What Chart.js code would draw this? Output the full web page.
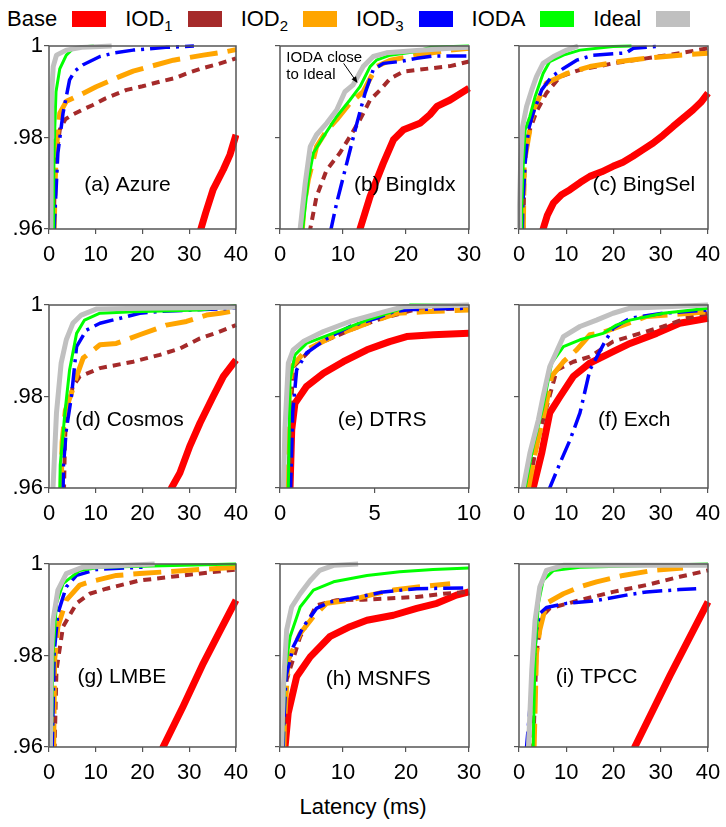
<!DOCTYPE html>
<html>
<head>
<meta charset="utf-8">
<title>Latency CDFs</title>
<script src="https://cdn.jsdelivr.net/npm/chart.js@4.4.0/dist/chart.umd.min.js"></script>
<style>
  body { margin: 0; background: #fff; font-family: "Liberation Sans", Arial, sans-serif; }
  #fig { position: relative; width: 726px; height: 827px; overflow: hidden; }
  #legend { position: absolute; left: 7px; top: 8px; display: flex; align-items: center; font-size: 22px; line-height: 22px; white-space: nowrap; color: #000; }
  #legend .sw { display: inline-block; width: 34px; height: 16px; margin: 0 19px 0 15px; }
  #legend sub { font-size: 15px; vertical-align: -5px; line-height: 0; }
  canvas { position: absolute; }
  #xtitle { position: absolute; left: 0; width: 726px; top: 794px; text-align: center; font-size: 22px; line-height: 26px; color: #000; }
</style>
</head>
<body>
<div id="fig">
  <div id="legend"></div>
  <div id="xtitle">Latency (ms)</div>
</div>
<script>
// ---------- data ----------
const seriesNames = ['Base', 'IOD1', 'IOD2', 'IOD3', 'IODA', 'Ideal'];
const seriesColors = ['#ff0000', '#a52a2a', '#ffa500', '#0000ff', '#00ff00', '#c0c0c0'];
const panelTitles = ['(a) Azure', '(b) BingIdx', '(c) BingSel', '(d) Cosmos', '(e) DTRS', '(f) Exch', '(g) LMBE', '(h) MSNFS', '(i) TPCC'];
const panelXMax = [40, 30, 40, 40, 10, 40, 40, 30, 40];
const ticks40 = [0, 10, 20, 30, 40];
const ticks30 = [0, 10, 20, 30];
const ticks10 = [0, 5, 10];
const panelXTicks = [ticks40, ticks30, ticks40, ticks40, ticks10, ticks40, ticks40, ticks30, ticks40];
const yTicks = [0.96, 0.98, 1];
const yTickLabels = ['.96', '.98', '1'];

// each panel: [Base, IOD1, IOD2, IOD3, IODA, Ideal], points are [latency ms, fraction]
const azure = [
  [[32.2,.959],[33.5,.9635],[35.1,.9686],[37.3,.973],[38.7,.9762],[40,.9806]],
  [[1.0,.959],[1.2,.97],[1.4,.9744],[2.3,.9817],[3.5,.984],[5.1,.985],[7,.986],[9.4,.9871],[12,.9885],[16.6,.9904],[20,.9912],[23.7,.9922],[27,.993],[29.4,.994],[33,.9952],[36,.996],[40,.9973]],
  [[1.1,.959],[1.3,.97],[1.6,.978],[2.3,.9853],[3.7,.9879],[6.6,.9893],[10.1,.9911],[15.1,.9933],[18,.9945],[21.6,.9955],[26.6,.9969],[33,.998],[38,.9988],[40,.9992]],
  [[1.1,.959],[1.2,.962],[1.9,.9766],[3,.9853],[4.4,.9926],[5.5,.9945],[7.3,.9959],[10.9,.9977],[14,.9985],[18,.9991],[25,.9997],[31,1]],
  [[0.9,.959],[1.0,.97],[1.1,.978],[1.5,.99],[2.3,.995],[3.7,.998],[5,.9993],[7,.9998],[9.6,1]],
  [[0.4,.959],[0.5,.98],[0.6,.99],[0.9,.9955],[1.6,.998],[3.7,.9991],[7,.9997],[13.4,1]]
];
const bingIdx = [
  [[12.6,.959],[12.7,.96],[14.3,.9671],[16.4,.9744],[18,.9795],[19.6,.9817],[22.2,.9831],[23.8,.985],[24.9,.9868],[27,.9882],[30,.9908]],
  [[4.7,.959],[4.8,.96],[5.8,.9671],[7.4,.9729],[9.5,.9766],[11.1,.9802],[12.7,.9839],[14.3,.9882],[15.9,.9904],[17.5,.9929],[19.6,.9944],[23.8,.9951],[27,.9956],[30,.9966]],
  [[3.5,.959],[3.8,.965],[4.5,.9708],[5.8,.978],[7.4,.9815],[9,.9839],[11.1,.9875],[13.2,.99],[15.3,.9955],[17.5,.9969],[21.7,.998],[27,.9991],[30,.9995]],
  [[8.0,.959],[8.1,.96],[9,.9657],[10.6,.9744],[12.2,.9831],[13.5,.9897],[14.8,.9948],[16.4,.9962],[19,.9966],[21.7,.9973],[24.3,.9978],[30,.9978]],
  [[3.5,.959],[3.6,.96],[4.5,.9708],[5.3,.9766],[6.9,.9802],[9,.9846],[11.1,.9882],[12.7,.9911],[14.3,.9955],[15.3,.9969],[17.5,.998],[21.7,.9988],[23.8,.9997],[30,1]],
  [[3.1,.959],[3.2,.96],[4.0,.97],[4.8,.978],[5.8,.9806],[7.4,.9831],[9.0,.986],[10.3,.99],[11.6,.9915],[13.2,.9955],[14.8,.9977],[16.9,.9985],[21.7,.999],[27,.9995],[30,.9997]]
];
const bingSel = [
  [[5.0,.959],[5.1,.96],[6,.963],[7.3,.9657],[9,.9675],[10.8,.9686],[13,.9702],[15,.9715],[17.5,.9725],[19.9,.9737],[22,.9746],[24.1,.9759],[26,.9772],[28.4,.9788],[30.5,.9805],[32.6,.9824],[34.7,.9842],[36.8,.986],[38.5,.9877],[40,.9897]],
  [[0.9,.959],[1.2,.975],[2.3,.9817],[3.7,.9857],[5.8,.9897],[8.7,.9933],[12.9,.9948],[19.9,.9962],[26.9,.9973],[34,.9984],[40,.9995]],
  [[0.9,.959],[1.1,.9744],[3,.986],[5.8,.9919],[10.1,.994],[15,.9955],[21.3,.9966],[26.9,.9973],[34,.998],[40,.9984]],
  [[0.7,.959],[0.8,.965],[1.3,.9744],[2,.9817],[3,.9853],[4.8,.9904],[6.9,.9933],[9.4,.9951],[12.2,.9969],[15.7,.998],[22.7,.9985],[24.2,.9995],[30.1,1]],
  [[0.5,.959],[0.6,.965],[0.9,.9744],[1.3,.9817],[2.3,.9846],[3.4,.9889],[5.1,.994],[6.5,.9966],[9.4,.998],[12.9,.9991],[19.9,.9999],[23.8,1]],
  [[0.05,.959],[0.1,.965],[0.35,.9744],[0.77,.9824],[1.6,.9868],[2.7,.9904],[3.7,.9933],[5.1,.9962],[7.3,.9977],[10.1,.9991],[12.5,1]]
];
const cosmos = [
  [[26.1,.959],[26.2,.96],[28,.9633],[30.1,.9691],[32.3,.9742],[35.1,.98],[37.3,.9844],[40,.988]],
  [[3.2,.959],[3.4,.97],[3.7,.9764],[5.1,.9822],[6.6,.9844],[10.9,.9862],[18,.9876],[23.7,.9891],[28,.9905],[32.3,.9927],[36,.994],[40,.9956]],
  [[2.6,.959],[2.8,.97],[3.5,.977],[4.8,.9807],[5.9,.9844],[7.3,.9884],[10.9,.9913],[14.4,.9916],[19.4,.9935],[25.1,.9956],[29.4,.9964],[33.7,.9978],[36.6,.9982],[40,.9988]],
  [[3.0,.959],[3.1,.965],[3.7,.9727],[4.8,.98],[5.9,.9909],[8,.9945],[10.9,.996],[14.4,.9969],[19.4,.9982],[24,.9986],[40,.9993]],
  [[2.3,.959],[2.4,.965],[3.4,.9764],[4.4,.9858],[5.9,.9938],[7.6,.9967],[10.9,.9982],[18,.9985],[32.3,.9989],[40,.9999]],
  [[0.8,.959],[0.86,.96],[1.6,.9764],[2.6,.9873],[3.7,.9924],[5.1,.996],[6.9,.9978],[10.1,.9991],[20,.9993],[40,.9995]]
];
const dtrs = [
  [[0.52,.959],[0.53,.96],[0.62,.9727],[0.79,.9785],[1.4,.9822],[2.3,.9851],[3.35,.9876],[4.6,.9902],[5.8,.992],[6.7,.9931],[8.1,.9935],[10,.9938]],
  [[0.48,.959],[0.49,.96],[0.55,.975],[0.7,.9865],[1.9,.9913],[3.7,.9945],[5.1,.9967],[7.05,.9989],[10,.9993]],
  [[0.3,.959],[0.32,.965],[0.35,.9727],[0.62,.9865],[1.4,.9902],[2.8,.9931],[4.6,.996],[6.2,.9982],[7.6,.9985],[10,.9989]],
  [[0.55,.959],[0.56,.96],[0.67,.9764],[0.88,.9858],[1.4,.9895],[2.5,.9927],[3.7,.9953],[5.1,.9971],[6,.9985],[6.9,.999],[10,.9993]],
  [[0.43,.959],[0.44,.96],[0.53,.9836],[0.79,.9891],[1.4,.9916],[2.8,.9938],[4.6,.9967],[6.2,.9989],[6.9,1],[10,1]],
  [[0.17,.959],[0.18,.96],[0.26,.9727],[0.44,.9873],[0.7,.9902],[1.23,.992],[2.3,.9942],[3.7,.9964],[5.5,.9985],[6.5,.9996],[10,1]]
];
const exch = [
  [[2.9,.959],[3,.96],[4.8,.9676],[6.5,.9764],[8.7,.98],[11.5,.9844],[15,.9873],[19.9,.9898],[23.5,.9916],[29.1,.9938],[34,.996],[40,.9971]],
  [[1.9,.959],[2,.96],[3.4,.9676],[5.1,.9749],[8,.9858],[11.5,.9876],[15,.9887],[19.9,.992],[25.6,.9938],[30.5,.9953],[35.4,.9971],[40,.9982]],
  [[1.9,.959],[2,.96],[3.7,.9691],[5.8,.9785],[6.9,.9844],[9.4,.9876],[12.2,.9902],[15,.9935],[17.1,.9938],[21.3,.9953],[27,.9975],[40,.9985]],
  [[6.4,.959],[6.5,.96],[8.7,.9655],[10.8,.9705],[12.9,.9764],[15,.9858],[18.2,.992],[19.9,.9949],[23.5,.9971],[30.5,.9982],[40,.9989]],
  [[1.2,.959],[1.3,.96],[3,.9691],[5.1,.9778],[6.9,.9873],[9.4,.9909],[12.9,.9924],[17.8,.9938],[20.6,.9956],[23.5,.9967],[30.5,.9982],[40,.9993]],
  [[0.8,.959],[0.9,.96],[2.3,.9676],[4.1,.9749],[5.1,.98],[6.5,.9865],[9.4,.9931],[12.9,.9953],[16.4,.9967],[19.9,.9982],[23.5,.9993],[40,1]]
];
const lmbe = [
  [[24.3,.959],[24.4,.96],[28.7,.9689],[33,.9783],[36.5,.9852],[40,.9921]],
  [[1.1,.959],[1.2,.96],[1.6,.9768],[3,.9863],[5.9,.9914],[8.7,.9935],[12.3,.9946],[19.4,.9964],[28.7,.9975],[40,.9988]],
  [[0.9,.959],[1,.96],[1.2,.979],[1.9,.9863],[3.7,.9921],[6.6,.9954],[8.7,.9961],[14.4,.9975],[19.4,.9979],[25.1,.9983],[32.3,.9988],[40,.9993]],
  [[0.6,.959],[0.7,.96],[1.1,.9805],[1.9,.9892],[3.7,.995],[5.9,.9975],[10.1,.9988],[20,.9993]],
  [[0.4,.959],[0.5,.96],[0.86,.9805],[1.6,.9914],[3,.9957],[6.6,.9986],[10.9,.9993],[40,1]],
  [[0.2,.959],[0.3,.96],[0.5,.9805],[0.86,.9877],[1.9,.9943],[3.7,.9979],[7.3,.9993],[22.6,1]]
];
const msnfs = [
  [[0.7,.959],[0.8,.96],[1.3,.9674],[2.65,.9754],[4.8,.9797],[7.9,.9841],[11.1,.9863],[13.8,.9877],[18,.9888],[21.7,.9903],[24.9,.9914],[28,.9932],[30,.9939]],
  [[0.5,.959],[0.6,.965],[1.06,.9747],[3.2,.9841],[5.8,.991],[9,.9921],[13.2,.9922],[16.4,.9924],[21.7,.9928],[25.9,.9935],[30,.9939]],
  [[0.6,.959],[0.7,.965],[1.3,.979],[3.2,.9848],[5.3,.9885],[7.4,.9914],[11.1,.9921],[14.3,.9932],[18,.9943],[22.8,.9951],[27,.9957]],
  [[0.5,.959],[0.6,.965],[0.95,.9754],[2.1,.9819],[3.7,.9863],[5.8,.9903],[7.9,.9917],[11.1,.9924],[16.4,.9939],[21.7,.9946],[30,.9948]],
  [[0.4,.959],[0.5,.965],[0.8,.9768],[1.6,.9841],[3.2,.9906],[5.3,.9943],[8.5,.9961],[13.8,.9975],[19,.9983],[24.3,.9988],[30,.9991]],
  [[0.2,.959],[0.26,.96],[0.53,.9732],[1.06,.9856],[1.85,.9906],[3.2,.9935],[4.8,.9964],[6.3,.9986],[8.5,.9997],[12.4,1]]
];
const tpcc = [
  [[24.4,.959],[24.5,.96],[32,.9757],[40,.9917]],
  [[2.9,.959],[3,.96],[3.7,.9805],[4.8,.9885],[6.5,.9903],[12.9,.9921],[19.9,.9939],[27,.9954],[34,.9972],[40,.9986]],
  [[3.1,.959],[3.2,.96],[3.7,.9805],[4.4,.9856],[5.8,.9914],[9.4,.9935],[12.9,.995],[16.4,.9961],[22,.9975],[28.4,.9986],[34.7,.9991]],
  [[1.5,.959],[1.6,.96],[2.7,.9732],[3.7,.9856],[4.4,.9892],[5.8,.9905],[10.1,.9914],[15.7,.9919],[22.7,.9932],[27,.9939],[34,.9944],[37.5,.9946]],
  [[2.9,.959],[3,.96],[3.4,.9805],[4.1,.9914],[5.1,.9964],[7.3,.9986],[12.9,.9993],[40,1]],
  [[1.9,.959],[2,.96],[2.7,.9768],[3.4,.9877],[4.4,.995],[5.8,.9986],[9.4,.9997],[40,.9997]]
];
const panels = [azure, bingIdx, bingSel, cosmos, dtrs, exch, lmbe, msnfs, tpcc];

// annotation in (b), in data units
const noteText = ['IODA close', 'to Ideal'];
const noteAnchor = [1.0, 0.9973];
const arrowFrom = [10.1, 0.9962];
const arrowTo = [12.3, 0.9919];

// ---------- styles & layout ----------
const FONT = '"Liberation Sans", Arial, sans-serif';
const lineWidths = [7, 4, 5, 3.5, 3, 5];
const lineDashes = [[], [8, 6], [28, 10], [20, 6, 3, 6], [], []];
const colLeft = [49, 280, 519];
const colWidth = [187, 189, 189];
const rowTop = [46, 305, 564];
const rowHeight = 183;
const titlePos = [[.42, .76], [.66, .76], [.66, .76], [.43, .63], [.54, .63], [.61, .63], [.39, .62], [.52, .63], [.41, .62]];
const AXIS_W = 45, AXIS_H = 50, PAD_T = 16, PAD_R = 22;

// legend
const legend = document.getElementById('legend');
seriesNames.forEach((name, i) => {
    const t = document.createElement('span');
    t.innerHTML = name.replace(/^IOD(\d)$/, 'IOD<sub>$1</sub>');
    const sw = document.createElement('span');
    sw.className = 'sw';
    sw.style.background = seriesColors[i];
    legend.appendChild(t);
    legend.appendChild(sw);
});

// frame, panel title and the (b) note
const panelDecor = {
    id: 'panelDecor',
    afterDatasetsDraw(chart, args, opts) {
        const { ctx, chartArea: a, scales } = chart;
        ctx.save();
        ctx.strokeStyle = '#555';
        ctx.lineWidth = 1.5;
        ctx.strokeRect(a.left, a.top, a.right - a.left, a.bottom - a.top);

        ctx.fillStyle = '#000';
        ctx.font = '21px ' + FONT;
        ctx.textAlign = 'center';
        ctx.textBaseline = 'middle';
        ctx.fillText(opts.title, a.left + opts.pos[0] * (a.right - a.left), a.top + opts.pos[1] * (a.bottom - a.top));

        if (opts.note) {
            const px = v => scales.x.getPixelForValue(v[0]);
            const py = v => scales.y.getPixelForValue(v[1]);
            ctx.font = '15px ' + FONT;
            ctx.textAlign = 'left';
            noteText.forEach((s, k) => ctx.fillText(s, px(noteAnchor), py(noteAnchor) + k * 16.5));

            const x1 = px(arrowFrom), y1 = py(arrowFrom), x2 = px(arrowTo), y2 = py(arrowTo);
            const ang = Math.atan2(y2 - y1, x2 - x1);
            ctx.strokeStyle = '#000';
            ctx.lineWidth = 1;
            ctx.beginPath();
            ctx.moveTo(x1, y1);
            ctx.lineTo(x2 - 4 * Math.cos(ang), y2 - 4 * Math.sin(ang));
            ctx.stroke();
            ctx.beginPath();
            ctx.moveTo(x2, y2);
            ctx.lineTo(x2 - 7 * Math.cos(ang - 0.4), y2 - 7 * Math.sin(ang - 0.4));
            ctx.lineTo(x2 - 7 * Math.cos(ang + 0.4), y2 - 7 * Math.sin(ang + 0.4));
            ctx.closePath();
            ctx.fillStyle = '#000';
            ctx.fill();
        }
        ctx.restore();
    }
};

const fig = document.getElementById('fig');
const axisGrid = { display: true, drawOnChartArea: false, drawTicks: true, tickLength: 5, color: '#555', lineWidth: 1.2 };

panels.forEach((data, i) => {
    const col = i % 3, row = Math.floor(i / 3);
    const cv = document.createElement('canvas');
    cv.width = AXIS_W + colWidth[col] + PAD_R;
    cv.height = PAD_T + rowHeight + AXIS_H;
    cv.style.left = (colLeft[col] - AXIS_W) + 'px';
    cv.style.top = (rowTop[row] - PAD_T) + 'px';
    fig.appendChild(cv);

    new Chart(cv, {
        type: 'scatter',
        data: {
            datasets: data.map((pts, s) => ({
                label: seriesNames[s],
                data: pts.map(p => ({ x: p[0], y: p[1] })),
                showLine: true,
                borderColor: seriesColors[s],
                backgroundColor: seriesColors[s],
                borderWidth: lineWidths[s],
                borderDash: lineDashes[s],
                borderCapStyle: 'butt',
                borderJoinStyle: 'round',
                pointRadius: 0,
                pointHoverRadius: 0,
                tension: 0,
                order: seriesNames.length - 1 - s,
                clip: { left: 3, top: 3, right: 3, bottom: 0 }
            }))
        },
        options: {
            responsive: false,
            animation: false,
            devicePixelRatio: 1,
            events: [],
            layout: { padding: { left: 0, top: PAD_T, right: PAD_R, bottom: 0 } },
            plugins: {
                legend: { display: false },
                tooltip: { enabled: false },
                panelDecor: { title: panelTitles[i], pos: titlePos[i], note: i === 1 }
            },
            scales: {
                x: {
                    type: 'linear', min: 0, max: panelXMax[i],
                    afterBuildTicks: s => { s.ticks = panelXTicks[i].map(v => ({ value: v })); },
                    afterFit: s => { s.height = AXIS_H; },
                    grid: axisGrid,
                    border: { display: false },
                    ticks: { color: '#000', font: { family: FONT, size: 22 }, padding: 8, maxRotation: 0, autoSkip: false }
                },
                y: {
                    type: 'linear', min: 0.96, max: 1,
                    afterBuildTicks: s => { s.ticks = yTicks.map(v => ({ value: v })); },
                    afterFit: s => { s.width = AXIS_W; },
                    grid: axisGrid,
                    border: { display: false },
                    ticks: {
                        color: '#000', font: { family: FONT, size: 22 }, padding: 1, autoSkip: false,
                        callback: (v, idx) => col === 0 ? yTickLabels[idx] : ''
                    }
                }
            }
        },
        plugins: [panelDecor]
    });
});
</script>
</body>
</html>
